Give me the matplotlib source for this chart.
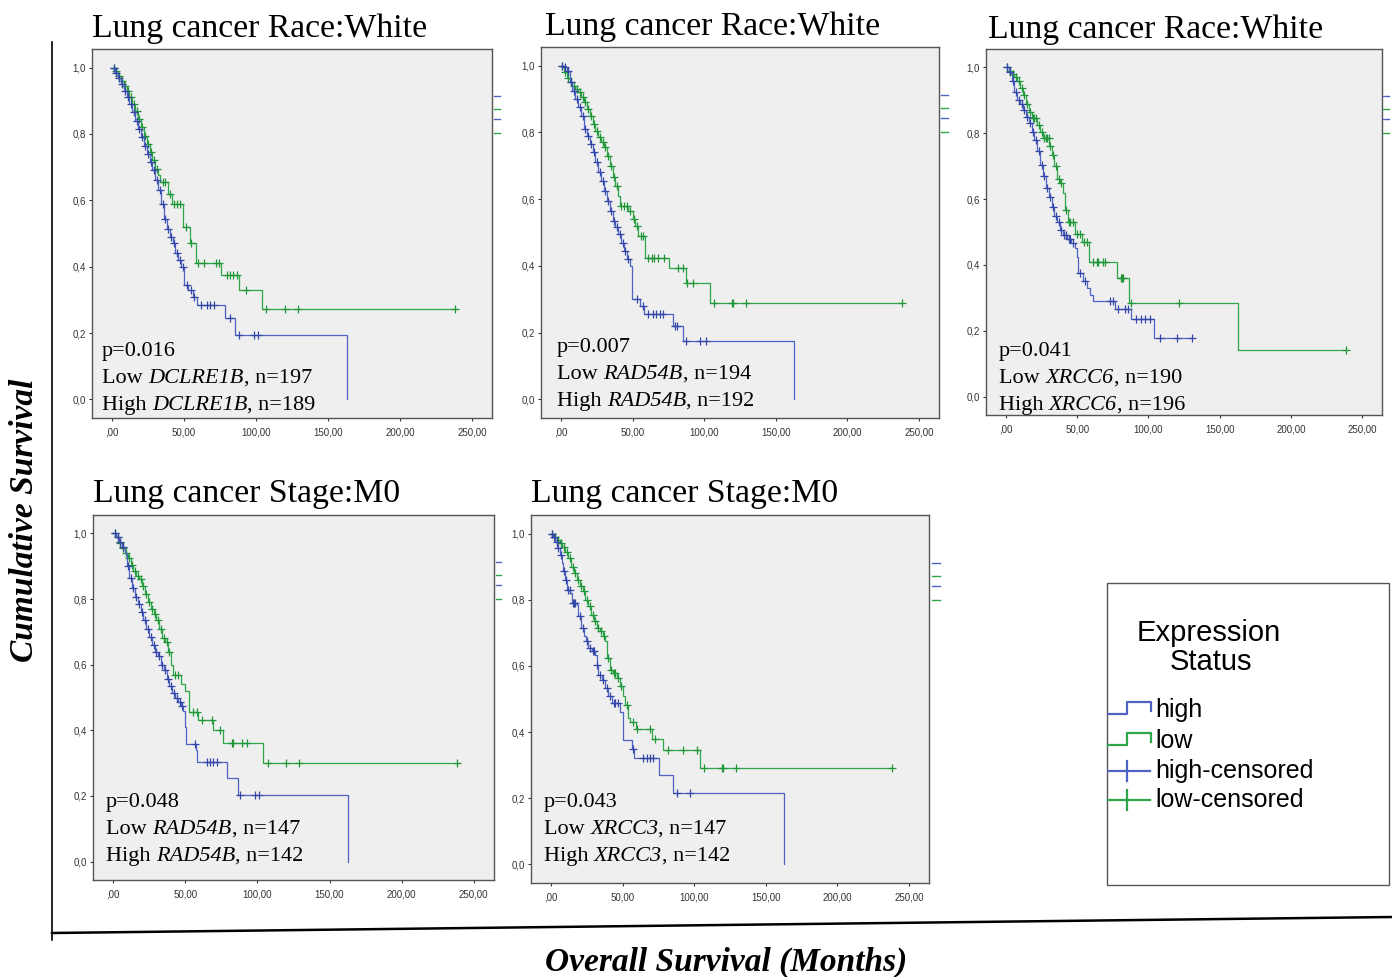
import numpy as np
import matplotlib
matplotlib.use("Agg")
import matplotlib.pyplot as plt
from matplotlib.lines import Line2D
from matplotlib.patches import Rectangle

plt.rcParams["font.family"] = ["Liberation Serif", "DejaVu Serif"]

# ---- data ----
x_ticks = [0, 50, 100, 150, 200, 250]
x_ticklabels = [",00", "50,00", "100,00", "150,00", "200,00", "250,00"]
y_ticks = [0.0, 0.2, 0.4, 0.6, 0.8, 1.0]
y_ticklabels = ["0,0", "0,2", "0,4", "0,6", "0,8", "1,0"]

titles = ["Lung cancer Race:White", "Lung cancer Race:White", "Lung cancer Race:White",
          "Lung cancer Stage:M0", "Lung cancer Stage:M0"]
genes = ["DCLRE1B", "RAD54B", "XRCC6", "RAD54B", "XRCC3"]
p_values = ["0.016", "0.007", "0.041", "0.048", "0.043"]
n_low = [197, 194, 190, 147, 147]
n_high = [189, 192, 196, 142, 142]

# panel 1: DCLRE1B, race white
p1_high_t = [2, 4, 6, 8, 10, 12, 14, 16, 18, 20, 22, 24, 26, 28, 30, 32, 34, 36, 38, 40, 42, 44, 46, 48,
             50, 53, 56, 59, 78.5, 85.5, 163]
p1_high_s = [0.985, 0.97, 0.95, 0.93, 0.91, 0.89, 0.865, 0.84, 0.815, 0.79, 0.765, 0.74, 0.715, 0.69, 0.66,
             0.63, 0.59, 0.545, 0.515, 0.49, 0.47, 0.44, 0.42, 0.40, 0.345, 0.33, 0.31, 0.286, 0.245, 0.195, 0.0]
p1_high_c = [1, 3, 5, 7, 9, 11, 13, 15, 17, 19, 21, 23, 25, 27, 29, 31, 33, 35, 37, 39, 41, 43, 45, 47, 49,
             52, 55, 57, 62, 66, 68, 70.5, 82, 88.5, 98.5, 101.5]
p1_low_t = [2, 4, 6, 8, 10, 12, 14, 16, 18, 20, 22, 24, 26, 28, 30, 32, 33.5, 39, 41.5, 49, 54, 58, 76, 88.5, 104]
p1_low_s = [0.99, 0.975, 0.96, 0.945, 0.93, 0.91, 0.89, 0.87, 0.845, 0.82, 0.795, 0.77, 0.745, 0.72, 0.695,
            0.675, 0.655, 0.62, 0.59, 0.52, 0.47, 0.41, 0.375, 0.33, 0.273]
p1_low_c = [1, 3, 5, 7, 9, 11, 13, 15, 17, 19, 21, 23, 25, 27, 29, 31, 35, 37, 40, 43, 45, 47, 51, 55, 60, 63.5,
            72.5, 74, 79.5, 82, 84, 86.5, 93, 107, 120, 129, 238]

# panel 2: RAD54B, race white
p2_high_t = [2, 4, 6, 8, 10, 12, 14, 16, 18, 20, 22, 24, 26, 28, 30, 32, 34, 36, 38, 40, 42, 44, 46, 48,
             49.3, 55, 58, 78, 85.4, 163]
p2_high_s = [0.995, 0.985, 0.95, 0.925, 0.9, 0.875, 0.85, 0.81, 0.79, 0.765, 0.74, 0.71, 0.68, 0.655, 0.625,
             0.595, 0.565, 0.535, 0.515, 0.497, 0.47, 0.445, 0.42, 0.40, 0.30, 0.28, 0.255, 0.22, 0.175, 0.0]
p2_high_c = [1, 3, 5, 7, 9, 11, 13, 15, 17, 19, 21, 23, 25, 27, 29, 31, 33, 35, 37, 39, 41, 43, 45, 47, 52.8,
             57, 61, 64, 66.3, 69, 71.5, 79.6, 80.8, 87.3, 97, 101.3]
p2_low_t = [2, 4, 6, 8, 10, 12, 14, 16, 18, 20, 22, 24, 26, 28, 30, 32, 34, 36, 38, 40, 41, 47, 50, 52, 54,
            58.7, 75.7, 87.3, 104]
p2_low_s = [0.98, 0.962, 0.95, 0.94, 0.93, 0.92, 0.905, 0.89, 0.87, 0.85, 0.825, 0.805, 0.785, 0.77, 0.755,
            0.73, 0.70, 0.665, 0.64, 0.61, 0.58, 0.565, 0.54, 0.52, 0.49, 0.425, 0.395, 0.35, 0.29]
p2_low_c = [1, 3, 5, 7, 9, 11, 13, 15, 17, 19, 21, 23, 25, 27, 29, 31, 33, 35, 37, 39, 42, 44, 46, 48, 51, 53,
            56, 57.5, 60.5, 63.3, 64.9, 67.9, 71.9, 82, 85, 88.2, 92, 107, 119.6, 120.3, 129.2, 238.4]

# panel 3: XRCC6, race white
p3_high_t = [2, 4, 6, 8, 10, 12, 14, 16, 18, 20, 22, 24, 26, 28, 30, 32, 34, 36, 38, 40, 43, 46, 48.5, 49.6,
             50.8, 54.3, 56.6, 59, 61.3, 76.4, 88, 104]
p3_high_s = [0.985, 0.96, 0.925, 0.9, 0.89, 0.87, 0.85, 0.83, 0.805, 0.78, 0.745, 0.705, 0.67, 0.635, 0.605,
             0.577, 0.55, 0.53, 0.505, 0.49, 0.478, 0.466, 0.45, 0.425, 0.375, 0.35, 0.33, 0.31, 0.29, 0.265,
             0.237, 0.178]
p3_high_c = [1, 3, 5, 7, 9, 11, 13, 15, 17, 19, 21, 23, 25, 27, 29, 31, 33, 35, 37, 39, 41, 42, 44, 45, 47, 52,
             55.5, 72.9, 75.3, 78.8, 83.4, 85.7, 91.6, 95, 97.9, 100.9, 107.9, 120.2, 130.5]
p3_low_t = [2, 4, 6, 8, 10, 12, 14, 16, 18, 22, 24, 26, 30.5, 32, 34, 35.6, 38, 40, 41.5, 43.8, 48.5, 53.6,
            58.2, 78.3, 86.2, 163]
p3_low_s = [0.99, 0.98, 0.97, 0.96, 0.936, 0.915, 0.89, 0.865, 0.845, 0.825, 0.805, 0.785, 0.76, 0.735, 0.7,
            0.66, 0.648, 0.617, 0.567, 0.53, 0.495, 0.47, 0.41, 0.36, 0.285, 0.14]
p3_low_c = [1, 3, 5, 7, 9, 11, 13, 15, 17, 19, 20, 21, 23, 25, 27, 28, 29, 30, 31, 33, 35, 37, 39, 42, 44, 45,
            47, 50, 52, 55, 57, 61.3, 63.6, 64.8, 68.3, 69.4, 80.6, 81.5, 82.2, 88, 121.4, 239]

# panel 4: RAD54B, stage M0
p4_high_t = [2, 4, 6, 8, 9.3, 11, 13, 15, 17, 19, 21, 23, 25, 27, 29, 31, 33, 35, 37, 39, 41, 43, 45, 47, 48.6,
             49.8, 50.5, 57.2, 58.3, 78.7, 86.3, 163]
p4_high_s = [0.99, 0.975, 0.96, 0.94, 0.9, 0.865, 0.835, 0.805, 0.785, 0.76, 0.735, 0.71, 0.685, 0.66, 0.64,
             0.625, 0.6, 0.585, 0.555, 0.535, 0.515, 0.5, 0.485, 0.475, 0.46, 0.41, 0.357, 0.34, 0.305, 0.255,
             0.204, 0.0]
p4_high_c = [1, 3, 5, 7, 10, 12, 14, 16, 18, 20, 22, 24, 26, 28, 30, 32, 34, 36, 38, 40, 42, 44, 46, 47.5, 56.5,
             65.3, 67.1, 69.4, 71.8, 88, 98.4, 101.4]
p4_low_t = [2, 4, 6, 8, 10, 12, 14, 16, 18, 20, 22, 24, 26, 28, 30, 32, 34, 36, 38, 40, 41.7, 46.8, 49.8, 52.8,
            59, 69.4, 76, 104]
p4_low_s = [0.99, 0.97, 0.955, 0.94, 0.925, 0.905, 0.885, 0.87, 0.86, 0.84, 0.815, 0.79, 0.77, 0.755, 0.735,
            0.71, 0.68, 0.67, 0.64, 0.6, 0.569, 0.54, 0.52, 0.455, 0.43, 0.40, 0.362, 0.30]
p4_low_c = [1, 3, 5, 7, 9, 11, 13, 15, 17, 19, 21, 23, 25, 27, 29, 31, 33, 35, 37, 39, 43, 45, 55.6, 57.9, 61.3,
            68.3, 74, 82.2, 83.3, 89.1, 92.6, 107, 120, 129, 238.4]

# panel 5: XRCC3, stage M0
p5_high_t = [1.5, 3, 4.5, 6, 7.5, 8.6, 10, 11, 13.3, 14.4, 18, 19, 21, 23, 24.5, 26, 28.4, 30.7, 31.9, 33, 35.4,
             37.7, 40, 42.4, 48.2, 50, 50.5, 56.3, 58, 75.7, 85.4, 163]
p5_high_s = [0.99, 0.975, 0.955, 0.935, 0.91, 0.886, 0.86, 0.83, 0.82, 0.79, 0.785, 0.75, 0.714, 0.69, 0.674,
             0.654, 0.644, 0.634, 0.603, 0.573, 0.558, 0.533, 0.508, 0.488, 0.462, 0.40, 0.376, 0.35, 0.322,
             0.27, 0.216, 0.0]
p5_high_c = [1, 2, 4, 5, 7, 9, 10.5, 12, 13, 15, 16, 17, 20, 22, 25, 27, 29, 30, 32, 34, 36, 39, 41, 44, 45, 47,
             57, 64.5, 66.8, 69.1, 71.5, 87.8, 97]
p5_low_t = [2, 4, 6, 8, 10, 12, 14, 16, 18, 20, 22, 24, 26, 28, 30, 32, 34, 36, 38, 39, 41, 43.5, 46, 48.2, 50,
            51.7, 54, 55.2, 59.1, 70.3, 78, 104]
p5_low_s = [0.99, 0.98, 0.97, 0.96, 0.945, 0.925, 0.9, 0.88, 0.86, 0.84, 0.825, 0.8, 0.78, 0.755, 0.735, 0.715,
            0.705, 0.69, 0.674, 0.624, 0.589, 0.578, 0.563, 0.538, 0.508, 0.482, 0.442, 0.432, 0.41, 0.38,
            0.345, 0.29]
p5_low_c = [1, 3, 5, 7, 9, 11, 13, 15, 17, 19, 21, 23, 25, 27, 29, 31, 33, 35, 37, 40, 42, 44, 45, 47, 49, 53,
            57, 60.3, 69.1, 72.6, 81.9, 92.4, 101.7, 107, 119.6, 120.3, 129.2, 238.4]

curves = [
    (p1_high_t, p1_high_s, p1_high_c, p1_low_t, p1_low_s, p1_low_c),
    (p2_high_t, p2_high_s, p2_high_c, p2_low_t, p2_low_s, p2_low_c),
    (p3_high_t, p3_high_s, p3_high_c, p3_low_t, p3_low_s, p3_low_c),
    (p4_high_t, p4_high_s, p4_high_c, p4_low_t, p4_low_s, p4_low_c),
    (p5_high_t, p5_high_s, p5_high_c, p5_low_t, p5_low_s, p5_low_c),
]

# ---- layout (pixels of the 1392x977 image) ----
W, H = 1392, 977
BLUE = "#4f63c4"
GREEN = "#2ea64a"
BLUE_MK = "#3446a8"
GREEN_MK = "#1f9638"


def fx(x):
    return x / W


def fy(y):
    return 1 - y / H


boxes = [(92, 49, 492, 418), (541, 47, 939, 418), (986, 49, 1382, 415),
         (93, 515, 494, 880), (531, 515, 929, 883)]
title_pos = [(92, 37), (545, 35), (988, 38), (93, 502), (531, 502)]
text_pos = [(102, 349), (557, 345), (999, 349), (106, 800), (544, 800)]
stub_pos = [(494, 500, 96), (941, 948, 95), (1383, 1389, 96), (496, 501, 562), (932, 940, 563)]


def km(ax, t, s, cens, color, mcolor):
    t = np.asarray(t, float)
    s = np.asarray(s, float)
    cens = np.asarray(cens, float)
    end = max(t[-1], cens.max())
    xs = np.r_[0, t, end]
    ys = np.r_[1, s, s[-1]]
    ax.step(xs, ys, where="post", color=color, lw=0.9)
    cy = np.r_[1, s][np.searchsorted(t, cens, side="right")]
    ax.plot(cens, cy, "+", color=mcolor, ms=5.5, mew=0.9)


fig = plt.figure(figsize=(13.92, 9.77), dpi=100)
renderer = fig.canvas.get_renderer()


def rich_line(x, y, parts, size=16):
    # parts: list of (text, italic) drawn one after another, x/y in pixels (baseline)
    for txt, it in parts:
        t = fig.text(fx(x), fy(y), txt, fontsize=size, ha="left", va="baseline",
                     fontstyle="italic" if it else "normal")
        x = t.get_window_extent(renderer).x1


for i, (l, t, r, b) in enumerate(boxes):
    ax = fig.add_axes([fx(l), fy(b), (r - l) / W, (b - t) / H])
    ax.set_facecolor("#efefef")
    ht, hs, hc, lt, ls, lc = curves[i]
    km(ax, lt, ls, lc, GREEN, GREEN_MK)
    km(ax, ht, hs, hc, BLUE, BLUE_MK)
    ax.set_xlim(-14, 264)
    ax.set_ylim(-0.056, 1.056)
    ax.set_xticks(x_ticks)
    ax.set_xticklabels(x_ticklabels)
    ax.set_yticks(y_ticks)
    ax.set_yticklabels(y_ticklabels)
    ax.tick_params(direction="out", length=2.5, width=0.8, pad=2, colors="#333333",
                   labelsize=7)
    for lab in ax.get_xticklabels() + ax.get_yticklabels():
        lab.set_family(["Liberation Sans", "DejaVu Sans"])
    ax.tick_params(axis="x", pad=4)
    for sp in ax.spines.values():
        sp.set_color("#555555")
        sp.set_linewidth(1.0)

    tx, ty = title_pos[i]
    fig.text(fx(tx), fy(ty), titles[i], fontsize=24.3, ha="left", va="baseline", color="black")

    px, py = text_pos[i]
    rich_line(px, py + 7, [("p=" + p_values[i], False)])
    rich_line(px, py + 34, [("Low ", False), (genes[i], True), (", n=" + str(n_low[i]), False)])
    rich_line(px, py + 61, [("High ", False), (genes[i], True), (", n=" + str(n_high[i]), False)])

    # cut-off legend remnants right of each panel
    x0, x1, y0 = stub_pos[i]
    for dy, c in zip([0, 13, 23, 37], [BLUE, GREEN, BLUE, GREEN]):
        fig.add_artist(Line2D([fx(x0), fx(x1)], [fy(y0 + dy), fy(y0 + dy)], color=c, lw=1.0,
                              transform=fig.transFigure))

# outer axis lines and labels
fig.add_artist(Line2D([fx(52), fx(52)], [fy(42), fy(940)], color="black", lw=1.2,
                      transform=fig.transFigure))
fig.add_artist(Line2D([fx(52), fx(1392)], [fy(933), fy(917)], color="black", lw=1.8,
                      transform=fig.transFigure))
fig.text(fx(25), fy(520), "Cumulative Survival", rotation=90, fontsize=24, fontweight="bold",
         fontstyle="italic", ha="center", va="center")
fig.text(fx(726), fy(962), "Overall Survival (Months)", fontsize=24, fontweight="bold",
         fontstyle="italic", ha="center", va="center")

# legend box
fig.add_artist(Rectangle((fx(1107), fy(885)), (1389 - 1107) / W, (885 - 583) / H, fill=False,
                         edgecolor="#555555", lw=1.0, transform=fig.transFigure))
sans = ["Liberation Sans", "DejaVu Sans"]
fig.text(fx(1137), fy(633), "Expression", family=sans, fontsize=21, ha="left", va="center")
fig.text(fx(1211), fy(662), "Status", family=sans, fontsize=21, ha="center", va="center")
legend_labels = ["high", "low", "high-censored", "low-censored"]
legend_colors = [BLUE, GREEN, BLUE, GREEN]
legend_y = [710, 741, 771, 800]
for k, (lab, c, yy) in enumerate(zip(legend_labels, legend_colors, legend_y)):
    if k < 2:
        xs = [1108, 1127, 1127, 1151, 1151]
        ys = [yy + 4, yy + 4, yy - 8, yy - 8, yy + 1]
        fig.add_artist(Line2D([fx(v) for v in xs], [fy(v) for v in ys], color=c, lw=1.6,
                              transform=fig.transFigure))
    else:
        fig.add_artist(Line2D([fx(1108), fx(1150)], [fy(yy), fy(yy)], color=c, lw=1.6,
                              transform=fig.transFigure))
        fig.add_artist(Line2D([fx(1127), fx(1127)], [fy(yy - 10), fy(yy + 10)], color=c, lw=1.6,
                              transform=fig.transFigure))
    fig.text(fx(1155), fy(yy), lab, family=sans, fontsize=18, ha="left", va="center")

fig.savefig("out.png", dpi=100)
